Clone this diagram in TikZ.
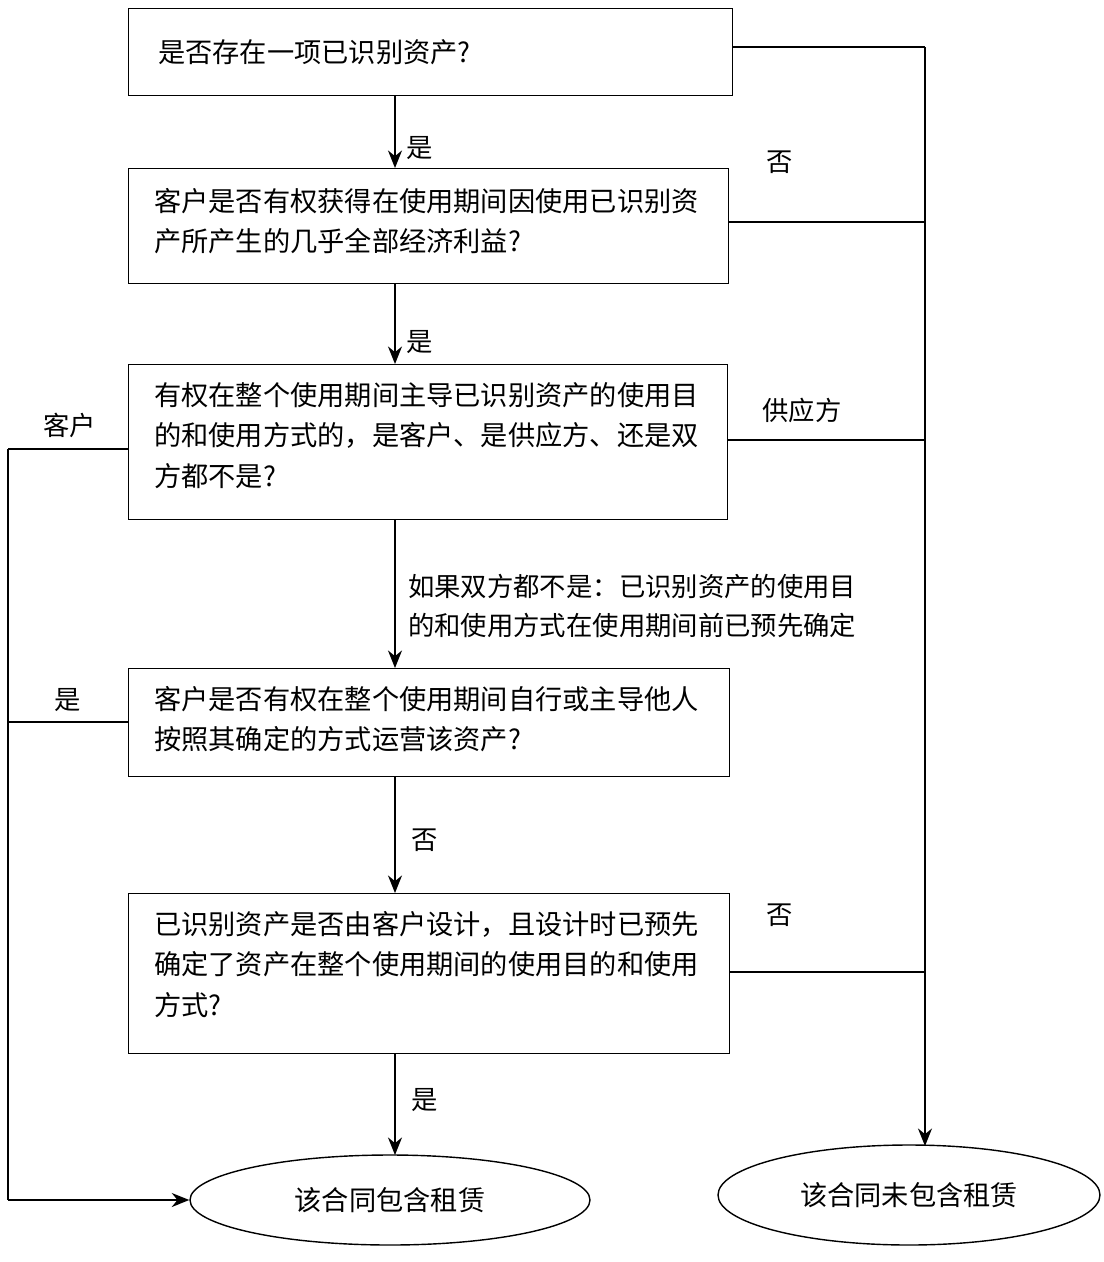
\documentclass[tikz,border=0pt]{standalone}
\usepackage{fontspec}
\setmainfont{Noto Sans CJK SC}
\usetikzlibrary{shapes.geometric,arrows.meta}
\tikzset{
  qbox/.style={draw, thick, align=left, anchor=north west, inner sep=0pt, text width=#1},
  endnode/.style={draw, thick, ellipse, inner sep=0pt},
  flow/.style={thick, -{Stealth[length=10pt,width=8pt]}},
  lbl/.style={font=\fontsize{15}{22}\selectfont}
}
\begin{document}
\begin{tikzpicture}[x=0.02cm,y=-0.02cm, font=\fontsize{15.5}{23}\selectfont]
\useasboundingbox (0,0) rectangle (1104,1262);

% Questions
\node[draw, thick, minimum width=604*0.02cm, minimum height=87*0.02cm, anchor=north west] (q1) at (128,8) {};
\node[anchor=west] at (152,52) {是否存在一项已识别资产?};
\node[draw, thick, minimum width=600*0.02cm, minimum height=115*0.02cm, anchor=north west] (q2) at (128,168) {};
\node[anchor=north west, align=left] at (148,182) {客户是否有权获得在使用期间因使用已识别资\\产所产生的几乎全部经济利益?};
\node[draw, thick, minimum width=599*0.02cm, minimum height=155*0.02cm, anchor=north west] (q3) at (128,364) {};
\node[anchor=north west, align=left] at (148,376) {有权在整个使用期间主导已识别资产的使用目\\的和使用方式的，是客户、是供应方、还是双\\方都不是?};
\node[draw, thick, minimum width=601*0.02cm, minimum height=108*0.02cm, anchor=north west] (q4) at (128,668) {};
\node[anchor=north west, align=left] at (148,680) {客户是否有权在整个使用期间自行或主导他人\\按照其确定的方式运营该资产?};
\node[draw, thick, minimum width=601*0.02cm, minimum height=160*0.02cm, anchor=north west] (q5) at (128,893) {};
\node[anchor=north west, align=left] at (148,905) {已识别资产是否由客户设计，且设计时已预先\\确定了资产在整个使用期间的使用目的和使用\\方式?};

% Results
\node[endnode, minimum width=400*0.02cm, minimum height=90*0.02cm] (yes) at (390,1200) {该合同包含租赁};
\node[endnode, minimum width=382*0.02cm, minimum height=100*0.02cm] (no) at (909,1195) {该合同未包含租赁};

% Down the middle
\draw[flow] (395,95) -- (395,168);
\draw[flow] (395,283) -- (395,364);
\draw[flow] (395,519) -- (395,668);
\draw[flow] (395,776) -- (395,893);
\draw[flow] (395,1053) -- (395,1155);
\node[lbl] at (420,148) {是};
\node[lbl] at (420,342) {是};
\node[lbl, anchor=north west, align=left] at (402,568) {如果双方都不是：已识别资产的使用目\\的和使用方式在使用期间前已预先确定};
\node[lbl] at (425,840) {否};
\node[lbl] at (425,1100) {是};

% Right side
\coordinate (r1) at (925,47);
\draw[thick] (q1.east |- r1) -- (r1);
\draw[flow] (r1) -- (925,1146);
\draw[thick] (728,222) -- (925,222);
\draw[thick] (727,440) -- (925,440);
\draw[thick] (729,972) -- (925,972);
\node[lbl] at (780,162) {否};
\node[lbl] at (802,410) {供应方};
\node[lbl] at (780,915) {否};

% Left side
\coordinate (l1) at (8,449);
\draw[thick] (128,449) -- (l1);
\draw[thick] (l1) -- (8,1200);
\draw[flow] (8,1200) -- (yes.west);
\draw[thick] (128,722) -- (8,722);
\node[lbl] at (70,425) {客户};
\node[lbl] at (68,700) {是};
\end{tikzpicture}
\end{document}
